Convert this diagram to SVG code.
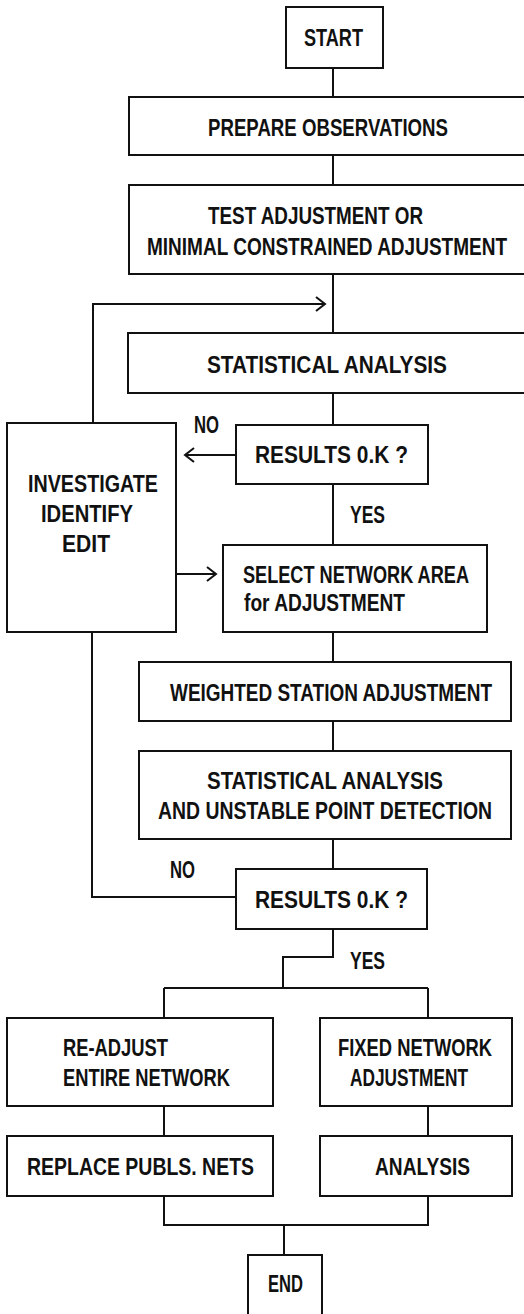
<svg xmlns="http://www.w3.org/2000/svg" width="524" height="1314" viewBox="0 0 524 1314">
<style>
.box{fill:#fff;stroke:#111;stroke-width:2}
.ln{fill:none;stroke:#111;stroke-width:2}
text{font-family:"Liberation Sans",Arial,sans-serif;font-size:24px;font-weight:bold;fill:#111}
</style>
<rect width="524" height="1314" fill="#fff"/>
<g id="connectors">
<path class="ln" d="M333 68V97M333 155V185M333 274V333M333 393V425"/>
<path class="ln" d="M236 455H185M194 448L185 455L194 462"/>
<path class="ln" d="M333 484V545"/>
<path class="ln" d="M93 423V304H325M316 297L325 304L316 311"/>
<path class="ln" d="M176 574H216M207 567L216 574L207 581"/>
<path class="ln" d="M333 632V662M333 721V751M333 839V869"/>
<path class="ln" d="M236 897H92V632"/>
<path class="ln" d="M333 929V957H283V988M164 988H428M164 988V1018M428 988V1018"/>
<path class="ln" d="M164 1106V1136M428 1106V1136"/>
<path class="ln" d="M164 1196V1225H428V1196M284 1225V1255"/>
</g>
<g id="start"><rect class="box" x="286" y="7" width="97" height="61"/><text x="304" y="46" textLength="59" lengthAdjust="spacingAndGlyphs">START</text></g>
<g id="prepare"><rect class="box" x="129" y="97" width="401" height="58"/><text x="208" y="135.5" textLength="240" lengthAdjust="spacingAndGlyphs">PREPARE OBSERVATIONS</text></g>
<g id="test"><rect class="box" x="129" y="185" width="401" height="89"/><text x="208" y="223.5" textLength="215" lengthAdjust="spacingAndGlyphs">TEST ADJUSTMENT OR</text><text x="147" y="254.5" textLength="360" lengthAdjust="spacingAndGlyphs">MINIMAL CONSTRAINED ADJUSTMENT</text></g>
<g id="stat1"><rect class="box" x="128" y="333" width="402" height="60"/><text x="207" y="372.5" textLength="240" lengthAdjust="spacingAndGlyphs">STATISTICAL ANALYSIS</text></g>
<g id="results1"><rect class="box" x="236" y="425" width="192" height="59"/><text x="255" y="463" textLength="153" lengthAdjust="spacingAndGlyphs">RESULTS 0.K ?</text></g>
<g id="no1"><text x="194" y="433" textLength="25" lengthAdjust="spacingAndGlyphs">NO</text></g>
<g id="yes1"><text x="350" y="522.5" textLength="35" lengthAdjust="spacingAndGlyphs">YES</text></g>
<g id="investigate"><rect class="box" x="7" y="423" width="169" height="209"/><text x="28" y="491.5" textLength="130" lengthAdjust="spacingAndGlyphs">INVESTIGATE</text><text x="41" y="521.5" textLength="92" lengthAdjust="spacingAndGlyphs">IDENTIFY</text><text x="62" y="551.5" textLength="48" lengthAdjust="spacingAndGlyphs">EDIT</text></g>
<g id="select"><rect class="box" x="223" y="545" width="264" height="87"/><text x="243" y="582.5" textLength="226" lengthAdjust="spacingAndGlyphs">SELECT NETWORK AREA</text><text x="244" y="610.5" textLength="161" lengthAdjust="spacingAndGlyphs">for ADJUSTMENT</text></g>
<g id="weighted"><rect class="box" x="139" y="662" width="372" height="59"/><text x="170" y="700.5" textLength="322" lengthAdjust="spacingAndGlyphs">WEIGHTED STATION ADJUSTMENT</text></g>
<g id="stat2"><rect class="box" x="139" y="751" width="372" height="88"/><text x="207" y="788.5" textLength="236" lengthAdjust="spacingAndGlyphs">STATISTICAL ANALYSIS</text><text x="158" y="818.5" textLength="334" lengthAdjust="spacingAndGlyphs">AND UNSTABLE POINT DETECTION</text></g>
<g id="no2"><text x="170" y="877.5" textLength="25" lengthAdjust="spacingAndGlyphs">NO</text></g>
<g id="results2"><rect class="box" x="236" y="869" width="191" height="60"/><text x="255" y="907.5" textLength="153" lengthAdjust="spacingAndGlyphs">RESULTS 0.K ?</text></g>
<g id="yes2"><text x="350" y="968.5" textLength="35" lengthAdjust="spacingAndGlyphs">YES</text></g>
<g id="readjust"><rect class="box" x="7" y="1018" width="266" height="88"/><text x="63" y="1055.5" textLength="105" lengthAdjust="spacingAndGlyphs">RE-ADJUST</text><text x="63" y="1085.5" textLength="167" lengthAdjust="spacingAndGlyphs">ENTIRE NETWORK</text></g>
<g id="fixed"><rect class="box" x="320" y="1018" width="192" height="88"/><text x="338" y="1055.5" textLength="154" lengthAdjust="spacingAndGlyphs">FIXED NETWORK</text><text x="350" y="1085.5" textLength="118" lengthAdjust="spacingAndGlyphs">ADJUSTMENT</text></g>
<g id="replace"><rect class="box" x="7" y="1136" width="266" height="60"/><text x="27" y="1174.5" textLength="227" lengthAdjust="spacingAndGlyphs">REPLACE PUBLS. NETS</text></g>
<g id="analysis"><rect class="box" x="320" y="1136" width="192" height="60"/><text x="375" y="1174.5" textLength="95" lengthAdjust="spacingAndGlyphs">ANALYSIS</text></g>
<g id="end"><rect class="box" x="248" y="1255" width="74" height="61"/><text x="268" y="1291.5" textLength="35" lengthAdjust="spacingAndGlyphs">END</text></g>
</svg>
